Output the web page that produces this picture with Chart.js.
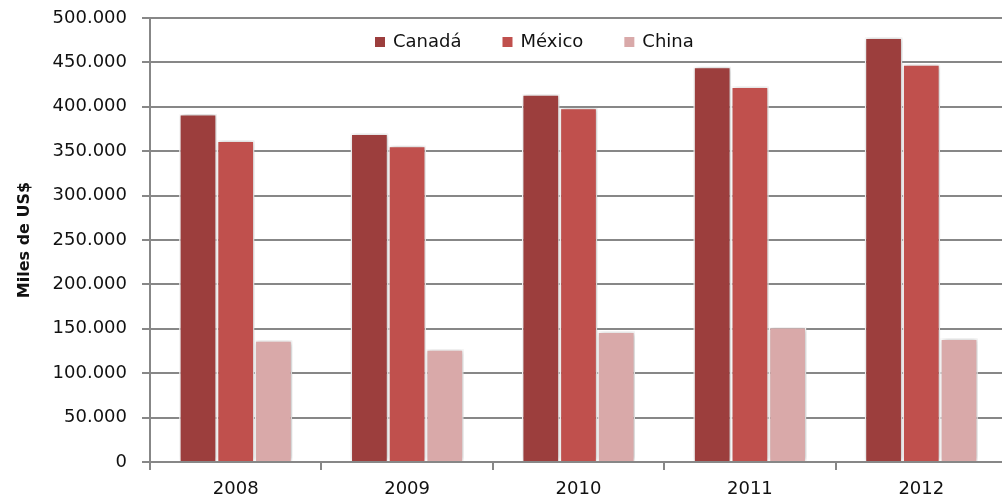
<!DOCTYPE html>
<html>
<head>
<meta charset="utf-8">
<script src="https://cdn.jsdelivr.net/npm/chart.js@4.4.0/dist/chart.umd.min.js"></script>
<style>
    html, body { margin: 0; padding: 0; background: #fff; overflow: hidden; }
    #wrap { position: relative; width: 1010px; height: 499px; }
</style>
</head>
<body>
<div id="wrap"><canvas id="exportChart"></canvas></div>
<script>
const years = ["2008", "2009", "2010", "2011", "2012"];
const canada = [392000, 370000, 414000, 445000, 478000];
const mexico = [362000, 356000, 399000, 423000, 448000];
const china = [137000, 127000, 147000, 152000, 139000];

const gridGray = "#878787";
const textColor = "#111";

Chart.defaults.font.family = "'DejaVu Sans', sans-serif";
Chart.defaults.font.size = 18;
Chart.defaults.color = textColor;

const fmt = v => String(v).replace(/\B(?=(\d{3})+(?!\d))/g, ".");

// legend drawn inside the plot area, like the original
const legendInside = {
    id: "legendInside",
    afterDraw(chart) {
        const ctx = chart.ctx;
        const area = chart.chartArea;
        ctx.save();
        ctx.font = "18px 'DejaVu Sans'";
        ctx.textBaseline = "middle";
        let x = area.left + 225;
        const y = area.top + 24;
        chart.data.datasets.forEach(ds => {
            ctx.fillStyle = ds.backgroundColor;
            ctx.fillRect(x, y - 5, 10, 10);
            ctx.fillStyle = textColor;
            ctx.fillText(ds.label, x + 18, y);
            x += 18 + ctx.measureText(ds.label).width + 41;
        });
        ctx.restore();
    }
};

const barShadow = {
    id: "barShadow",
    beforeDatasetsDraw(chart) {
        const c = chart.ctx;
        c.save();
        c.shadowColor = "rgba(0,0,0,0.28)";
        c.shadowBlur = 5;
        c.shadowOffsetX = 1;
        c.shadowOffsetY = 0;
    },
    afterDatasetsDraw(chart) {
        chart.ctx.restore();
    }
};

new Chart(document.getElementById("exportChart"), {
    type: "bar",
    data: {
        labels: years,
        datasets: [
            { label: "Canadá", data: canada, backgroundColor: "#9C3E3D" },
            { label: "México", data: mexico, backgroundColor: "#C0504D" },
            { label: "China", data: china, backgroundColor: "#D9A9A9" }
        ]
    },
    options: {
        responsive: true,
        maintainAspectRatio: false,
        animation: false,
        layout: { padding: { top: 18, right: 3, bottom: 0, left: 0 } },
        datasets: {
            bar: {
                categoryPercentage: 0.66,
                barPercentage: 1,
                borderWidth: 1.5,
                borderColor: "#fff"
            }
        },
        plugins: {
            legend: { display: false },
            tooltip: { enabled: false }
        },
        scales: {
            x: {
                afterFit: scale => {
                    scale.height = 37;
                    scale.paddingLeft = 0;
                    scale.paddingRight = 0;
                },
                grid: {
                    drawOnChartArea: false,
                    offset: true,
                    tickLength: 8,
                    color: gridGray,
                    lineWidth: 2
                },
                border: { color: gridGray, width: 2 },
                ticks: { padding: 9, color: textColor }
            },
            y: {
                min: 0,
                max: 500000,
                afterFit: scale => {
                    scale.width = 150;
                    scale.paddingTop = 0;
                    scale.paddingBottom = 0;
                },
                grid: { color: gridGray, lineWidth: 2, tickLength: 8 },
                border: { color: gridGray, width: 2 },
                ticks: {
                    stepSize: 50000,
                    padding: 15,
                    color: textColor,
                    callback: value => fmt(value)
                },
                title: {
                    display: true,
                    text: "Miles de US$",
                    color: textColor,
                    font: { size: 16, weight: "bold" },
                    padding: { top: 15, bottom: 0 }
                }
            }
        }
    },
    plugins: [legendInside, barShadow]
});
</script>
</body>
</html>
